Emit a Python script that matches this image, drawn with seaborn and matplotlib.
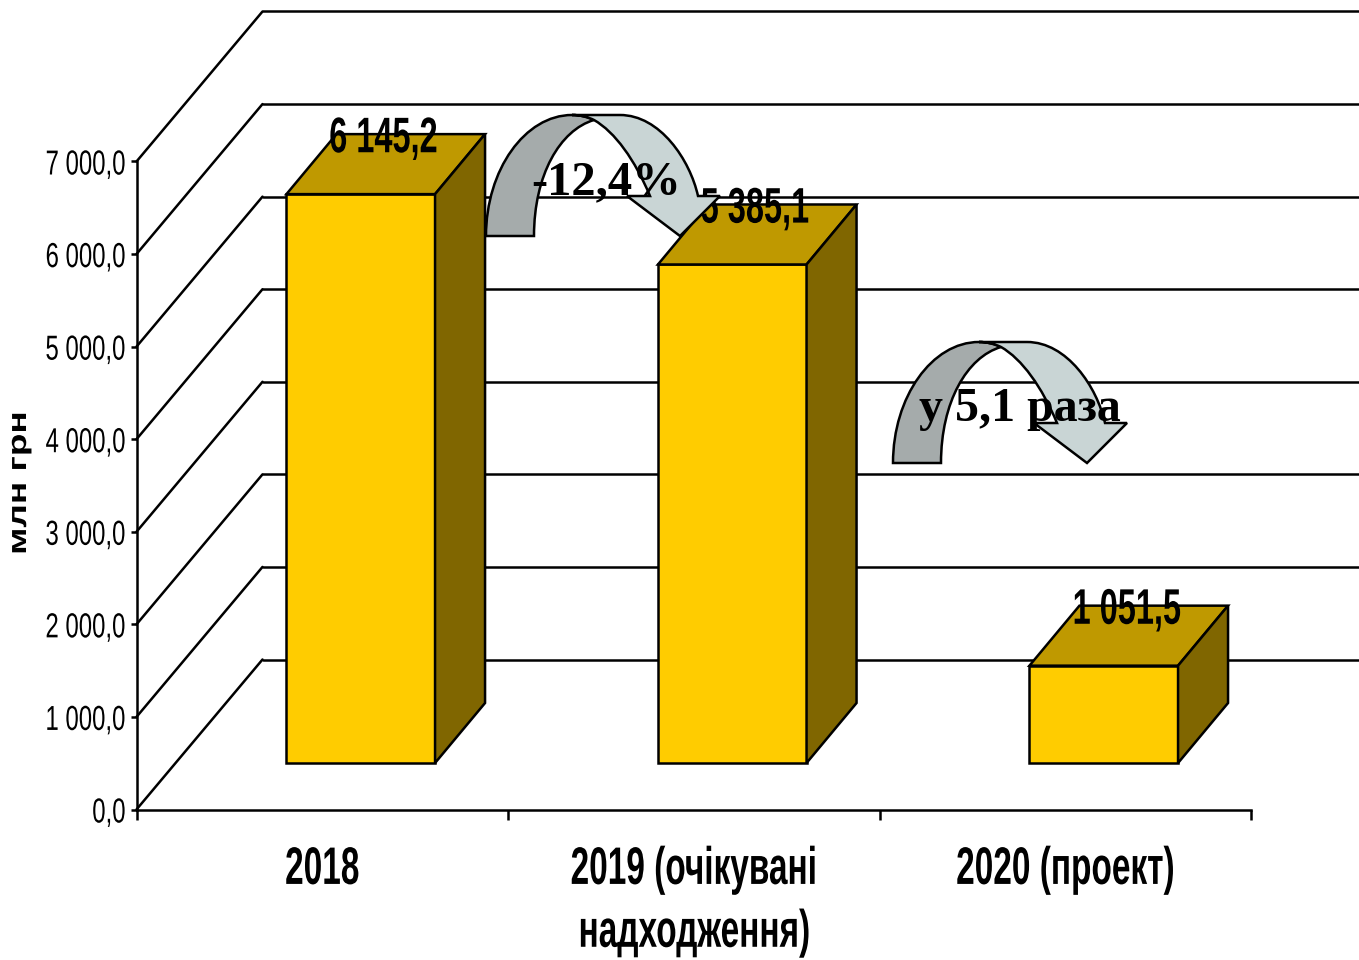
import matplotlib
matplotlib.use('Agg')
import matplotlib.pyplot as plt
import seaborn as sns
from matplotlib.patches import PathPatch, Polygon
from matplotlib.path import Path
from matplotlib.patheffects import AbstractPathEffect
from matplotlib.transforms import Affine2D

# Data
categories = ['2018', '2019 (очікувані\nнадходження)', '2020 (проект)']
values = [6145.2, 5385.1, 1051.5]
value_labels = ['6 145,2', '5 385,1', '1 051,5']
y_ticks = [0, 1000, 2000, 3000, 4000, 5000, 6000, 7000]
y_tick_labels = ['0,0', '1 000,0', '2 000,0', '3 000,0', '4 000,0', '5 000,0', '6 000,0', '7 000,0']
y_title = 'млн грн'
notes = ['-12,4%', 'у 5,1 раза']

W, H = 1359, 960
LW = 1.8


# Original uses a condensed font that is not installed, so squeeze the drawn text
class Squeeze(AbstractPathEffect):
    def __init__(self, factor, anchor='center', vertical=False):
        super().__init__()
        self.factor = factor
        self.anchor = anchor
        self.vertical = vertical

    def draw_path(self, renderer, gc, tpath, affine, rgbFace=None):
        box = affine.transform_path(tpath).get_extents()
        if self.vertical:
            c = (box.y0 + box.y1) / 2
            extra = Affine2D().translate(0, -c).scale(1, self.factor).translate(0, c)
        else:
            c = {'left': box.x0, 'center': (box.x0 + box.x1) / 2, 'right': box.x1}[self.anchor]
            extra = Affine2D().translate(-c, 0).scale(self.factor, 1).translate(c, 0)
        renderer.draw_path(gc, tpath, affine + extra, rgbFace)


sns.set_style('white')
plt.rcParams['font.family'] = ['Liberation Sans', 'DejaVu Sans']

fig = plt.figure(figsize=(W / 100, H / 100), dpi=100)
ax = fig.add_axes([136.5 / W, (H - 809.5) / H, (1251 - 136.5) / W, 648 / H])

# Fake 3D offsets in pixels
wall_dx, wall_dy = 126, 150
base_dx, base_dy = 38.5, 46.5
bar_dx, bar_dy = 50, 60

sns.barplot(x=list(range(3)), y=values, ax=ax, color='#FFCC00', saturation=1, width=0.4,
            edgecolor='black', linewidth=LW, zorder=3)
ax.set_xlim(-0.5, 2.5)
ax.set_ylim(0, 7000)

# Back wall lines and left wall diagonals
px = Affine2D()
for t in y_ticks:
    x0, y0 = ax.transData.transform((-0.5, t))
    x1, _ = ax.transData.transform((2.5, t))
    ax.add_line(plt.Line2D([x0, x0 + wall_dx], [y0, y0 + wall_dy], color='black', lw=LW,
                           transform=px, clip_on=False, zorder=1))
    ax.add_line(plt.Line2D([x0 + wall_dx, x1 + wall_dx], [y0 + wall_dy, y0 + wall_dy], color='black', lw=LW,
                           transform=px, clip_on=False, zorder=1))

# Move bars to middle of the depth and add top and side faces
for bar in list(ax.patches):
    bar.set_transform(ax.transData + Affine2D().translate(base_dx, base_dy))
    bar.set_clip_on(False)
    (xa, ya), (xb, yb) = ax.transData.transform([(bar.get_x(), 0), (bar.get_x() + bar.get_width(), bar.get_height())])
    xa, xb, ya, yb = xa + base_dx, xb + base_dx, ya + base_dy, yb + base_dy
    top = [(xa, yb), (xb, yb), (xb + bar_dx, yb + bar_dy), (xa + bar_dx, yb + bar_dy)]
    side = [(xb, ya), (xb + bar_dx, ya + bar_dy), (xb + bar_dx, yb + bar_dy), (xb, yb)]
    ax.add_patch(Polygon(top, facecolor='#BF9900', edgecolor='black', lw=LW, transform=px, clip_on=False, zorder=3))
    ax.add_patch(Polygon(side, facecolor='#806600', edgecolor='black', lw=LW, transform=px, clip_on=False, zorder=3))

# Value labels
for i, (v, lab) in enumerate(zip(values, value_labels)):
    ax.annotate(lab, (i, v), xytext=(44, 73), textcoords='offset points', ha='center', va='center',
                fontsize=36, fontweight='bold', color='black', zorder=5, annotation_clip=False,
                path_effects=[Squeeze(0.65)])

# Axes
for s in ['top', 'right']:
    ax.spines[s].set_visible(False)
for s in ['left', 'bottom']:
    ax.spines[s].set_linewidth(LW)
    ax.spines[s].set_color('black')
    ax.spines[s].set_zorder(2)
ax.set_yticks(y_ticks)
ax.set_yticklabels(y_tick_labels, fontsize=25, color='black')
for lab in ax.get_yticklabels():
    lab.set_path_effects([Squeeze(0.69, 'right')])
ax.tick_params(axis='y', length=4.5, width=LW, pad=3, left=True, color='black')
ax.set_xticks([0, 1, 2])
ax.set_xticklabels(categories, fontsize=38, fontweight='bold', color='black', linespacing=1.33)
for lab in ax.get_xticklabels():
    lab.set_path_effects([Squeeze(0.633)])
ax.set_xticks([-0.5, 0.5, 1.5, 2.5], minor=True)
ax.tick_params(axis='x', which='major', length=0, pad=25.5)
ax.tick_params(axis='x', which='minor', length=7, width=LW, bottom=True, color='black')
ax.set_xlabel('')
ax.set_ylabel(y_title, fontsize=19, fontweight='bold', color='black', va='center', ha='center',
              path_effects=[Squeeze(1.4, vertical=True)])
ax.yaxis.set_label_coords((19 - 136.5) / 1114.5, (809.5 - 483) / 648)

# Curved arrows, drawn in image pixels (y down)
img = Affine2D().scale(1, -1).translate(0, H)
dark_v = [(486, 236), (486, 170), (525, 115), (572, 115), (580, 115), (588, 117), (594, 120),
          (560, 130), (534, 175), (534, 236), (486, 236)]
dark_c = [Path.MOVETO, Path.CURVE4, Path.CURVE4, Path.CURVE4, Path.CURVE4, Path.CURVE4, Path.CURVE4,
          Path.CURVE4, Path.CURVE4, Path.CURVE4, Path.CLOSEPOLY]
light_v = [(594, 120), (588, 117), (580, 115), (572, 115), (620, 115), (660, 115), (690, 160), (698, 196),
           (720, 196), (680, 236), (627, 196), (650, 196), (635, 160), (615, 132), (594, 120), (594, 120)]
light_c = [Path.MOVETO, Path.CURVE4, Path.CURVE4, Path.CURVE4, Path.LINETO, Path.CURVE4, Path.CURVE4, Path.CURVE4,
           Path.LINETO, Path.LINETO, Path.LINETO, Path.LINETO, Path.CURVE4, Path.CURVE4, Path.CURVE4, Path.CLOSEPOLY]
for shift in [(0, 0), (407, 227)]:
    tr = Affine2D().translate(*shift) + img
    ax.add_patch(PathPatch(Path(dark_v, dark_c), facecolor='#A5ABAB', edgecolor='black', lw=LW,
                           transform=tr, clip_on=False, zorder=6))
    ax.add_patch(PathPatch(Path(light_v, light_c), facecolor='#C9D5D5', edgecolor='black', lw=LW,
                           transform=tr, clip_on=False, zorder=6))

serif = ['Liberation Serif', 'DejaVu Serif']
ax.text(606, 182, notes[0], transform=img, ha='center', va='center', fontsize=35, fontweight='bold',
        family=serif, color='black', zorder=7, clip_on=False)
ax.text(1020, 409, notes[1], transform=img, ha='center', va='center', fontsize=34.5, fontweight='bold',
        family=serif, color='black', zorder=7, clip_on=False)

plt.savefig('out.png', dpi=100)
plt.close()
